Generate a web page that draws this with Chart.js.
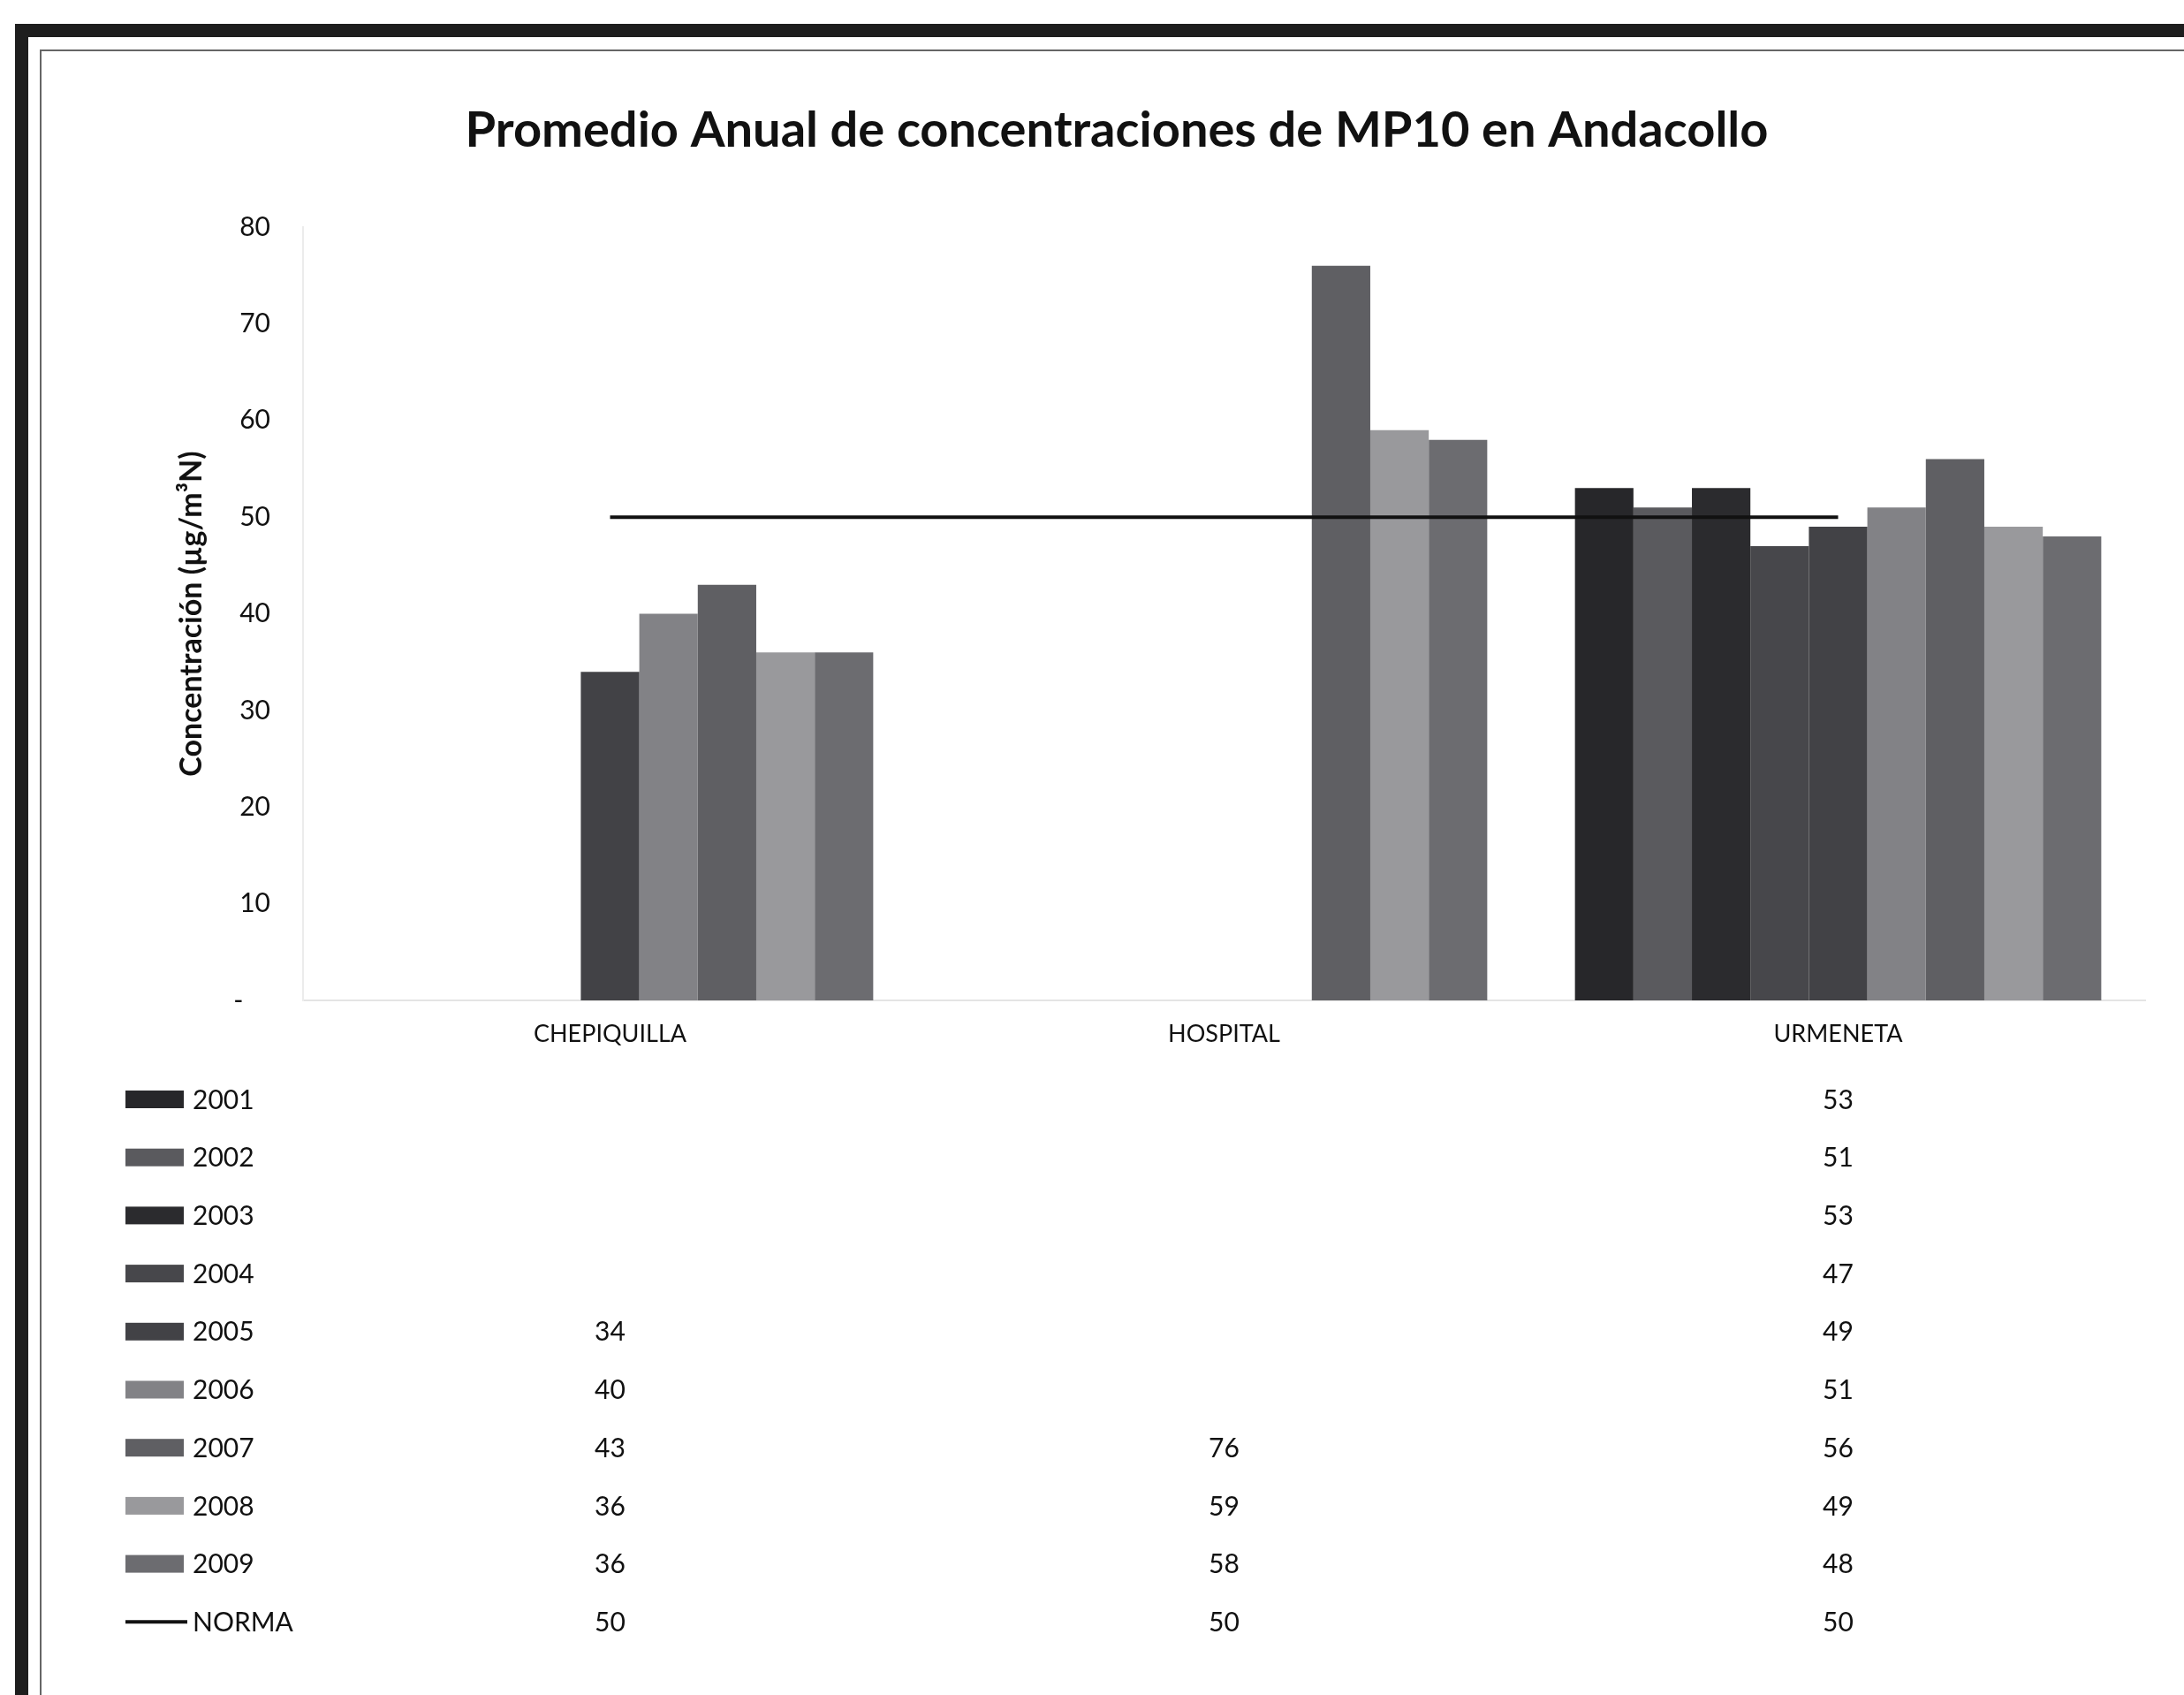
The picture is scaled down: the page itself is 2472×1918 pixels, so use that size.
<!DOCTYPE html>
<html>
<head>
<meta charset="utf-8">
<script src="https://cdn.jsdelivr.net/npm/chart.js@4.4.0/dist/chart.umd.min.js"></script>
<style>
  html, body { margin: 0; padding: 0; background: #ffffff; overflow: hidden; }
  #wrap { position: relative; width: 2472px; height: 1918px; }
  canvas { position: absolute; left: 0; top: 0; }
  .fr { position: absolute; z-index: 2; }
</style>
</head>
<body>
<div id="wrap">
  <canvas id="c" width="2472" height="1918" style="width:2472px;height:1918px"></canvas>
  <div class="fr" style="left:17px;top:27px;right:0;height:15px;background:#1e1e1e"></div>
  <div class="fr" style="left:17px;top:27px;width:15px;bottom:0;background:#1e1e1e"></div>
  <div class="fr" style="left:45px;top:56px;right:0;height:2px;background:#666"></div>
  <div class="fr" style="left:45px;top:56px;width:2px;bottom:0;background:#666"></div>
</div>
<script>
// ---- data ----
const categories = ['CHEPIQUILLA', 'HOSPITAL', 'URMENETA'];
const years = ['2001', '2002', '2003', '2004', '2005', '2006', '2007', '2008', '2009'];
const v2001 = [null, null, 53];
const v2002 = [null, null, 51];
const v2003 = [null, null, 53];
const v2004 = [null, null, 47];
const v2005 = [34, null, 49];
const v2006 = [40, null, 51];
const v2007 = [43, 76, 56];
const v2008 = [36, 59, 49];
const v2009 = [36, 58, 48];
const norma = [50, 50, 50];
const normaLabel = 'NORMA';
const yTicks = [0, 10, 20, 30, 40, 50, 60, 70, 80];
const titleText = 'Promedio Anual de concentraciones de MP10 en Andacollo';
const yTitle = 'Concentración (µg/m³N)';

const yearValues = [v2001, v2002, v2003, v2004, v2005, v2006, v2007, v2008, v2009];
const yearColors = ['#27272a', '#5a5a5e', '#2b2b2e', '#47474b', '#424246', '#828286', '#5f5f63', '#99999c', '#6c6c70'];

const FONT = 'Lato, "Open Sans", sans-serif';

const datasets = years.map((y, i) => ({
  type: 'bar',
  label: y,
  data: yearValues[i],
  backgroundColor: yearColors[i],
  borderWidth: 0,
  order: 1
}));
datasets.push({
  type: 'line',
  label: normaLabel,
  data: norma,
  borderColor: '#111111',
  borderWidth: 4,
  pointRadius: 0,
  fill: false,
  tension: 0,
  order: 0
});

// data table (Excel style) drawn under the axis
const tablePlugin = {
  id: 'dataTable',
  afterDraw(chart) {
    const ctx = chart.ctx;
    const xs = chart.scales.x;
    const rowY0 = 1244, rowH = 65.7;
    ctx.save();
    ctx.font = '30px ' + FONT;
    ctx.textBaseline = 'middle';
    chart.data.datasets.forEach((ds, i) => {
      const y = rowY0 + i * rowH;
      if (ds.type === 'line') {
        ctx.strokeStyle = ds.borderColor;
        ctx.lineWidth = 4;
        ctx.beginPath();
        ctx.moveTo(142, y);
        ctx.lineTo(212, y);
        ctx.stroke();
      } else {
        ctx.fillStyle = ds.backgroundColor;
        ctx.fillRect(142, y - 10, 66, 20);
      }
      ctx.fillStyle = '#111';
      ctx.textAlign = 'left';
      ctx.fillText(ds.label, 218, y + 1);
      ctx.textAlign = 'center';
      ds.data.forEach((v, j) => {
        if (v === null || v === undefined) return;
        ctx.fillText(String(v), xs.getPixelForValue(j), y + 1);
      });
    });
    ctx.restore();
  }
};

function start() {
  new Chart(document.getElementById('c'), {
    data: { labels: categories, datasets: datasets },
    plugins: [tablePlugin],
    options: {
      responsive: false,
      animation: false,
      devicePixelRatio: 1,
      layout: { padding: { left: 100, right: 44, top: 0, bottom: 0 } },
      datasets: { bar: { categoryPercentage: 9 / 10.5, barPercentage: 1 } },
      plugins: {
        legend: { display: false },
        tooltip: { enabled: false },
        title: {
          display: true,
          text: titleText,
          color: '#111',
          font: { family: FONT, size: 56, weight: 'bold', lineHeight: 1.2 },
          padding: { top: 114, bottom: 75.8 }
        }
      },
      scales: {
        x: {
          offset: true,
          grid: { display: false, drawTicks: false },
          border: { display: true, color: '#e4e4e4', width: 2 },
          ticks: { color: '#111', font: { family: FONT, size: 27 }, padding: 22 },
          afterFit(s) { s.height = 786; }
        },
        y: {
          min: 0,
          max: 80,
          afterBuildTicks(s) { s.ticks = yTicks.map(v => ({ value: v })); },
          grid: { display: false, drawTicks: false },
          border: { display: true, color: '#ececec', width: 2 },
          ticks: {
            color: '#111',
            font: { family: FONT, size: 30 },
            padding: 37,
            callback: (v) => (v === 0 ? '-    ' : String(v))
          },
          title: {
            display: true,
            text: yTitle,
            color: '#111',
            font: { family: FONT, size: 34, weight: 'bold', lineHeight: 1.2 },
            padding: { top: 97, bottom: 0 }
          },
          afterFit(s) { s.width = 243; }
        }
      }
    }
  });
}

if (document.fonts && document.fonts.load) {
  Promise.all([
    document.fonts.load('30px Lato'),
    document.fonts.load('bold 56px Lato')
  ]).then(start, start);
} else {
  start();
}
</script>
</body>
</html>
